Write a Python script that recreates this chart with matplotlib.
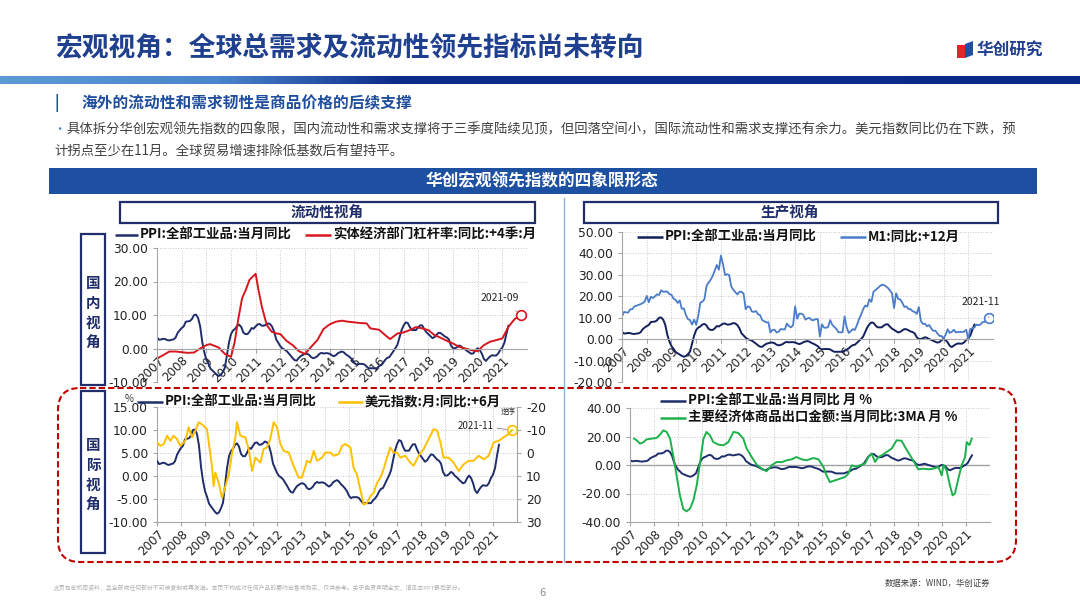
import numpy as np
import matplotlib
matplotlib.use("Agg")
import matplotlib.pyplot as plt
from matplotlib.patches import Rectangle, FancyBboxPatch, Polygon
from matplotlib.colors import LinearSegmentedColormap

plt.rcParams['font.family'] = ['Noto Sans CJK SC', 'DejaVu Sans']
plt.rcParams['axes.unicode_minus'] = False

W, H = 1080, 608

# ---------------- data ----------------
years = list(range(2007, 2022))

# PPI:全部工业品:当月同比, monthly 2007-01 .. 2021-04
ppi = [3.3, 2.6, 2.7, 2.9, 2.8, 2.5, 2.4, 2.6, 2.7, 3.2, 4.6, 5.4,
       6.1, 6.6, 8.0, 8.1, 8.2, 8.8, 10.0, 10.1, 9.1, 6.6, 2.0, -1.1,
       -3.3, -4.5, -6.0, -6.6, -7.2, -7.8, -8.2, -7.9, -7.0, -5.8, -2.1, 1.7,
       4.3, 5.4, 5.9, 6.8, 7.1, 6.4, 4.8, 4.3, 4.3, 5.0, 6.1, 5.9,
       6.6, 7.2, 7.3, 6.8, 6.8, 7.1, 7.5, 7.3, 6.5, 5.0, 2.7, 1.7,
       0.7, 0.0, -0.3, -0.7, -1.4, -2.1, -2.9, -3.5, -3.6, -2.8, -2.2, -1.9,
       -1.6, -1.6, -1.9, -2.6, -2.9, -2.7, -2.3, -1.6, -1.3, -1.5, -1.4, -1.4,
       -1.6, -2.0, -2.3, -2.0, -1.4, -1.1, -0.9, -1.2, -1.8, -2.2, -2.7, -3.3,
       -4.3, -4.8, -4.6, -4.6, -4.6, -4.8, -5.4, -5.9, -5.9, -5.9, -5.9, -5.9,
       -5.3, -4.9, -4.3, -3.4, -2.8, -2.6, -1.7, -0.8, 0.1, 1.2, 3.3, 5.5,
       6.9, 7.8, 7.6, 6.4, 5.5, 5.5, 5.5, 6.3, 6.9, 6.9, 5.8, 4.9,
       4.3, 3.7, 3.1, 3.4, 4.1, 4.7, 4.6, 4.1, 3.6, 3.3, 2.7, 0.9,
       0.1, 0.1, 0.4, 0.9, 0.6, 0.0, -0.3, -0.8, -1.2, -1.6, -1.4, -0.5,
       0.1, -0.4, -1.5, -3.1, -3.7, -3.0, -2.4, -2.0, -2.1, -2.1, -1.5, -0.4,
       0.3, 1.7, 4.4, 6.8]
ppi_t = 2007 + np.arange(len(ppi)) / 12

# M1:同比:+12月 (plotted 2007-01 .. 2021-11)
m1 = [10.6, 12.7, 12.5, 12.4, 13.9, 14.0, 15.3, 15.6, 16.0, 16.3, 16.8, 17.5,
      20.2, 17.2, 19.8, 19.2, 20.0, 20.9, 20.6, 22.8, 22.1, 22.2, 22.2, 21.0,
      20.7, 18.9, 18.3, 16.9, 18.1, 14.2, 14.3, 11.3, 9.3, 8.9, 6.8, 9.1,
      6.7, 10.9, 17.0, 17.5, 18.7, 24.8, 26.4, 27.7, 29.5, 32.0, 34.6, 32.4,
      39.0, 35.0, 29.9, 30.3, 29.9, 24.6, 23.0, 21.9, 20.9, 22.1, 22.1, 21.2,
      14.0, 15.3, 15.0, 12.9, 12.7, 13.1, 11.6, 11.2, 8.9, 8.4, 7.8, 7.9,
      3.1, 4.3, 4.4, 3.1, 3.5, 4.7, 4.6, 4.5, 7.3, 6.1, 5.5, 6.5,
      15.3, 9.5, 11.9, 11.9, 11.3, 9.1, 9.7, 9.9, 8.9, 8.9, 9.4, 9.3,
      1.2, 6.9, 5.4, 5.3, 5.7, 8.9, 6.7, 5.7, 4.8, 3.2, 3.2, 3.2,
      10.6, 5.6, 2.9, 3.7, 4.7, 4.3, 6.6, 9.3, 11.4, 14.0, 15.7, 15.2,
      18.6, 17.4, 22.1, 22.9, 23.7, 24.6, 25.4, 25.3, 24.7, 23.9, 22.7, 21.4,
      14.5, 21.4, 18.8, 18.5, 17.0, 15.0, 15.3, 14.0, 14.0, 13.0, 12.7, 11.8,
      15.0, 8.5, 7.1, 7.2, 6.0, 6.6, 5.1, 3.9, 4.0, 2.7, 1.5, 1.5,
      0.4, 2.0, 4.6, 2.9, 3.4, 4.4, 3.1, 3.4, 3.4, 3.3, 3.5, 4.4,
      0.0, 4.8, 5.0, 5.5, 6.8, 6.5, 6.9, 8.0, 8.1, 9.1, 10.0]
m1_t = 2007 + np.arange(len(m1)) / 12

# 实体经济部门杠杆率:同比:+4季:月
lev_t = [2007.0, 2007.25, 2007.5, 2007.75, 2008.0, 2008.25, 2008.5, 2008.75, 2009.0, 2009.15,
         2009.5, 2009.75, 2010.0, 2010.15, 2010.3, 2010.45, 2010.6, 2010.75, 2011.0, 2011.1,
         2011.25, 2011.45, 2011.65, 2011.85, 2012.0, 2012.25, 2012.5, 2012.75, 2013.0, 2013.25,
         2013.5, 2013.75, 2014.0, 2014.25, 2014.5, 2014.75, 2015.0, 2015.25, 2015.5, 2015.65,
         2016.0, 2016.25, 2016.45, 2016.75, 2017.0, 2017.25, 2017.5, 2017.75, 2018.0, 2018.25,
         2018.5, 2018.75, 2019.0, 2019.25, 2019.5, 2019.75, 2020.0, 2020.25, 2020.5, 2020.75,
         2021.0, 2021.25, 2021.5, 2021.75, 2022.0]
lev = [-3.0, -2.0, -0.9, -0.9, -1.1, -1.3, -1.2, 0.0, 1.0, 1.3,
       0.3, -1.6, -2.5, 2.0, 9.0, 15.0, 17.5, 20.5, 22.3, 18.0,
       12.5, 7.0, 5.0, 4.5, 4.3, 2.3, 1.0, -0.8, -1.6, 0.5,
       2.5, 5.8, 7.2, 8.0, 8.3, 8.0, 7.8, 7.6, 7.5, 6.0,
       5.6, 4.0, 2.8, 4.5, 4.8, 5.5, 6.4, 6.0, 5.5, 4.0,
       3.2, 2.3, 1.5, 0.5, 0.0, -0.5, -0.8, 1.0, 2.0, 2.5,
       3.0, 6.5, 8.8, 10.0, 9.5]

# 美元指数:月:同比:+6月 (right axis, reversed)
usd_t = [2007.00, 2007.14, 2007.28, 2007.42, 2007.56, 2007.69, 2007.83, 2007.97, 2008.18, 2008.32,
         2008.46, 2008.60, 2008.74, 2008.94, 2009.08, 2009.29, 2009.36, 2009.43, 2009.57, 2009.71,
         2009.85, 2009.99, 2010.13, 2010.26, 2010.33, 2010.47, 2010.68, 2010.82, 2010.96, 2011.10,
         2011.31, 2011.44, 2011.58, 2011.72, 2011.86, 2012.00, 2012.14, 2012.28, 2012.49, 2012.69,
         2012.90, 2013.04, 2013.25, 2013.39, 2013.53, 2013.67, 2013.88, 2014.01, 2014.22, 2014.36,
         2014.57, 2014.71, 2014.85, 2015.06, 2015.19, 2015.33, 2015.47, 2015.61, 2015.75, 2015.89,
         2016.03, 2016.17, 2016.31, 2016.44, 2016.58, 2016.72, 2016.86, 2017.00, 2017.14, 2017.35,
         2017.49, 2017.69, 2017.90, 2018.11, 2018.32, 2018.53, 2018.67, 2018.81, 2018.94, 2019.15,
         2019.36, 2019.57, 2019.78, 2019.99, 2020.19, 2020.40, 2020.61, 2020.82, 2021.03, 2021.24,
         2021.44, 2021.65, 2021.79]
usd = [-4.6, -3.1, -3.9, -7.5, -5.3, -7.5, -6.1, -3.1, -5.3, -11.2,
       -6.8, -9.7, -13.4, -11.9, -10.4, 5.6, 14.4, 8.5, 12.9, 19.5,
       14.4, 9.3, -0.2, -6.1, -13.4, -7.5, -6.8, -1.7, 7.8, 2.0,
       4.2, -1.7, -2.4, -6.1, -13.4, -11.2, -3.9, -0.9, -0.2, 5.6,
       10.7, 10.7, 3.4, 4.2, -0.9, 3.4, 2.0, -0.2, -0.2, 1.2,
       0.5, -3.1, -3.9, -2.4, 6.4, 9.3, 15.8, 22.4, 21.7, 18.8,
       17.3, 12.9, 10.7, 7.1, 2.0, -2.4, -0.2, -0.2, 2.0, 1.2,
       3.4, 5.6, 1.2, -1.7, -6.1, -10.4, -9.7, -4.6, 2.0, 2.0,
       4.2, 7.8, 4.9, 3.4, 3.4, 1.2, 2.7, 1.2, -4.6, -5.3,
       -6.8, -8.2, -10.0]

# 主要经济体商品出口金额:当月同比:3MA
exp_t = [2007.17, 2007.28, 2007.42, 2007.56, 2007.69, 2007.90, 2008.11, 2008.25, 2008.39, 2008.53,
         2008.67, 2008.81, 2008.94, 2009.08, 2009.22, 2009.36, 2009.50, 2009.64, 2009.78, 2009.92,
         2010.06, 2010.19, 2010.33, 2010.47, 2010.68, 2010.89, 2011.10, 2011.31, 2011.51, 2011.72,
         2011.86, 2012.07, 2012.28, 2012.49, 2012.69, 2012.90, 2013.11, 2013.32, 2013.53, 2013.74,
         2013.94, 2014.15, 2014.36, 2014.64, 2014.85, 2015.06, 2015.19, 2015.33, 2015.54, 2015.75,
         2015.96, 2016.10, 2016.24, 2016.44, 2016.58, 2016.79, 2016.93, 2017.07, 2017.21, 2017.35,
         2017.49, 2017.69, 2017.90, 2018.11, 2018.32, 2018.46, 2018.67, 2018.88, 2019.01, 2019.22,
         2019.43, 2019.64, 2019.85, 2019.99, 2020.06, 2020.19, 2020.33, 2020.44, 2020.54, 2020.68,
         2020.82, 2020.96, 2021.03, 2021.14, 2021.24]
exp = [18.5, 17.3, 15.0, 16.0, 18.0, 18.5, 19.0, 21.3, 24.3, 23.2,
       18.5, 5.6, -7.3, -21.3, -31.0, -32.5, -30.6, -24.8, -14.3, 2.1,
       18.5, 23.2, 20.8, 16.1, 14.3, 13.8, 16.1, 23.2, 22.5, 18.5,
       11.5, 5.6, 0.2, -2.6, -4.4, -0.2, 2.1, 2.0, 3.3, 4.0,
       5.6, 4.0, 3.3, 4.9, 4.0, -1.4, -7.3, -12.0, -10.8, -9.6,
       -8.4, -6.0, -0.2, -1.4, -0.2, 0.9, 5.6, 8.0, 2.1, 5.6,
       6.8, 9.1, 11.5, 17.3, 17.0, 12.6, 6.8, 0.9, -3.0, -2.6,
       -3.0, -2.6, -1.4, -7.3, 0.0, -3.7, -14.3, -21.3, -20.0, -9.6,
       -0.2, 5.6, 16.1, 14.0, 18.5]

NAVY = '#1F2D6B'
RED = '#D7161E'
BLUE = '#4A7CC9'
GOLD = '#FFC000'
GREEN = '#1DB14B'
TITLE = '#1F3F8F'
GRID = '#C8C8C8'
SPINE = '#A6A6A6'


def box(x0, y0, x1, y1):
    return [x0 / W, 1 - y1 / H, (x1 - x0) / W, (y1 - y0) / H]


fig = plt.figure(figsize=(W / 100, H / 100), dpi=100)

# ---------------- background decorations ----------------
bg = fig.add_axes([0, 0, 1, 1])
bg.set_xlim(0, W)
bg.set_ylim(H, 0)
bg.axis('off')

bg.text(55, 47, '宏观视角：全球总需求及流动性领先指标尚未转向', fontsize=19.3,
        fontweight='bold', color=TITLE, va='center', ha='left')
bg.add_patch(Rectangle((957, 45), 8, 13, color='#E0262B', lw=0))
bg.add_patch(Polygon([(965, 44), (973, 41), (973, 55), (965, 58)], color='#1F4FA0', lw=0))
bg.text(977, 49.5, '华创研究', fontsize=12, fontweight='bold', color=TITLE, va='center')

cmap = LinearSegmentedColormap.from_list('bar', [(0, '#5B9BD5'), (0.2, '#4A86CB'),
                                                 (0.36, '#0E2E8C'), (1, '#0A2A8A')])
bg.imshow(np.linspace(0, 1, 500)[None, :], extent=[0, W, 84, 76], cmap=cmap, aspect='auto')
bg.set_xlim(0, W)
bg.set_ylim(H, 0)

bg.text(55, 103, '|', fontsize=11, fontweight='bold', color='#1F4E9E', va='center')
bg.text(81, 103, '海外的流动性和需求韧性是商品价格的后续支撑', fontsize=11.3,
        fontweight='bold', color='#1F4E9E', va='center')
bg.text(53, 129, '•', fontsize=9, color='#4A86CB', va='center')
bg.text(67, 129, '具体拆分华创宏观领先指数的四象限，国内流动性和需求支撑将于三季度陆续见顶，但回落空间小，'
        '国际流动性和需求支撑还有余力。美元指数同比仍在下跌，预', fontsize=9.6, color='#404040', va='center')
bg.text(54, 152, '计拐点至少在11月。全球贸易增速排除低基数后有望持平。', fontsize=9.6,
        color='#404040', va='center')

bg.add_patch(Rectangle((49, 168), 988, 26, color='#1E50A2', lw=0))
bg.text(542, 181, '华创宏观领先指数的四象限形态', fontsize=12, fontweight='bold',
        color='white', ha='center', va='center')

for (x0, y0, x1, y1) in [(120, 202, 535, 223), (584, 202, 998, 223),
                         (81, 234, 105, 385), (81, 391, 105, 553)]:
    bg.add_patch(Rectangle((x0, y0), x1 - x0, y1 - y0, fill=False, ec=NAVY, lw=1.6))
bg.text(327, 212.5, '流动性视角', fontsize=10.5, fontweight='bold', color=NAVY, ha='center', va='center')
bg.text(790, 212.5, '生产视角', fontsize=10.5, fontweight='bold', color=NAVY, ha='center', va='center')
for i, ch in enumerate('国内视角'):
    bg.text(93, 283 + i * 20, ch, fontsize=10.5, fontweight='bold', color=NAVY, ha='center', va='center')
for i, ch in enumerate('国际视角'):
    bg.text(93, 445 + i * 20, ch, fontsize=10.5, fontweight='bold', color=NAVY, ha='center', va='center')

bg.plot([564, 564], [198, 562], color='#8DB3E2', lw=1)
bg.add_patch(FancyBboxPatch((58, 388), 958, 174, boxstyle='round,pad=0,rounding_size=22',
                            fill=False, ec='#C00000', lw=1.5, ls=(0, (3, 1.5))))

bg.text(885, 583, '数据来源：WIND，华创证券', fontsize=6, color='#404040', va='center')
bg.text(54, 588, '此页包含机密资料，其全部或任何部分不可被复制或再发送。本页不构成对任何产品的要约出售或购买，'
        '仅供参考。关于免责声明全文，请见本PPT最后部分。', fontsize=4.2, color='#B0B0B0', va='center')
bg.text(539, 593, '6', fontsize=8, color='#909090', va='center')


def style(ax, ylim, yticks, zero_axis):
    # spine position first: moving a spine resets the tick labels
    if zero_axis:
        ax.spines['bottom'].set_position(('data', 0))
    ax.set_facecolor('none')
    ax.set_xlim(2007, 2022)
    ax.set_ylim(*ylim)
    ax.set_yticks(yticks)
    ax.set_yticklabels(['%.2f' % v for v in yticks], family='DejaVu Sans')
    ax.set_xticks(years)
    ax.set_xticklabels([str(y) for y in years], rotation=45, ha='right',
                       rotation_mode='anchor', fontsize=8.6, family='DejaVu Sans')
    ax.grid(True, color=GRID, ls=':', lw=0.7)
    ax.set_axisbelow(True)
    for s in ['top', 'right']:
        ax.spines[s].set_visible(False)
    for s in ['left', 'bottom']:
        ax.spines[s].set_color(SPINE)
    ax.tick_params(axis='y', labelsize=8.8, colors='#222222', length=3, color=SPINE)
    ax.tick_params(axis='x', colors='#222222', length=3, color=SPINE, pad=1)


# ---------------- top-left: liquidity / domestic ----------------
ax1 = fig.add_axes(box(157, 248, 527, 382))
style(ax1, (-10, 30), [-10, 0, 10, 20, 30], True)
ax1.plot(ppi_t, ppi, color=NAVY, lw=1.4)
ax1.plot(lev_t, lev, color=RED, lw=1.4)
ax1.plot([lev_t[-2]], [lev[-2]], 'o', ms=7, mfc='white', mec=RED, mew=1.2)
ax1.annotate('2021-09', xy=(lev_t[-2], lev[-2]), xytext=(2020.9, 15.2), fontsize=7.5,
             ha='center', va='center', color='#222222',
             arrowprops=dict(arrowstyle='-', color='#808080', lw=0.6, shrinkA=6, shrinkB=4))

# ---------------- top-right: production / domestic ----------------
ax2 = fig.add_axes(box(622, 232, 993, 382))
style(ax2, (-20, 50), [-20, -10, 0, 10, 20, 30, 40, 50], True)
ax2.plot(ppi_t, ppi, color='#14205C', lw=1.4)
ax2.plot(m1_t, m1, color=BLUE, lw=1.3)
ax2.plot([m1_t[-1]], [m1[-1]], 'o', ms=7, mfc='white', mec=BLUE, mew=1.2)
ax2.annotate('2021-11', xy=(m1_t[-1], m1[-1]), xytext=(2021.5, 17.5), fontsize=7.5,
             ha='center', va='center', color='#222222',
             arrowprops=dict(arrowstyle='-', color='#808080', lw=0.6, shrinkA=6, shrinkB=4))

# ---------------- bottom-left: liquidity / international ----------------
ax3 = fig.add_axes(box(157, 407, 517, 522))
style(ax3, (-10, 15), [-10, -5, 0, 5, 10, 15], False)
ax3.plot(ppi_t, ppi, color=NAVY, lw=1.4, zorder=3)
ax3r = ax3.twinx()
ax3r.set_ylim(30, -20)
ax3r.set_yticks([-20, -10, 0, 10, 20, 30])
ax3r.set_yticklabels(['-20', '-10', '0', '10', '20', '30'], family='DejaVu Sans')
ax3r.set_facecolor('none')
for s in ['top', 'left', 'bottom']:
    ax3r.spines[s].set_visible(False)
ax3r.spines['right'].set_color(SPINE)
ax3r.tick_params(axis='y', labelsize=8.8, colors='#222222', length=3, color=SPINE)
ax3r.plot(usd_t, usd, color=GOLD, lw=1.4)
ax3r.plot([usd_t[-1]], [usd[-1]], 'o', ms=7, mfc='none', mec=GOLD, mew=1.2)
ax3r.annotate('2021-11', xy=(usd_t[-1], usd[-1]), xytext=(2020.3, -11.8), fontsize=7,
              ha='center', va='center', color='#222222',
              arrowprops=dict(arrowstyle='-', color='#808080', lw=0.6, shrinkA=14, shrinkB=4))

# ---------------- bottom-right: production / international ----------------
ax4 = fig.add_axes(box(630, 408, 990, 522))
style(ax4, (-40, 40), [-40, -20, 0, 20, 40], False)
ax4.axhline(0, color='#A0A0A0', lw=1.0, zorder=1)
ax4.plot(ppi_t, ppi, color=NAVY, lw=1.4)
ax4.plot(exp_t, exp, color=GREEN, lw=1.4)

# ---------------- foreground: legends and small labels ----------------
fg = fig.add_axes([0, 0, 1, 1])
fg.set_xlim(0, W)
fg.set_ylim(H, 0)
fg.axis('off')
fg.set_zorder(20)


def legend_item(x0, x1, y, color, label):
    fg.plot([x0, x1], [y, y], color=color, lw=1.8, solid_capstyle='butt')
    fg.text(x1 + 2, y, label, fontsize=9.6, fontweight='bold', color='#111111', va='center')


legend_item(115, 138, 235, NAVY, 'PPI:全部工业品:当月同比')
legend_item(305, 331, 235, RED, '实体经济部门杠杆率:同比:+4季:月')
legend_item(637, 663, 237, '#14205C', 'PPI:全部工业品:当月同比')
legend_item(840, 866, 237, BLUE, 'M1:同比:+12月')
legend_item(137, 163, 402, NAVY, 'PPI:全部工业品:当月同比')
legend_item(338, 363, 402, GOLD, '美元指数:月:同比:+6月')
legend_item(660, 686, 401, NAVY, 'PPI:全部工业品:当月同比 月 %')
legend_item(660, 686, 418, GREEN, '主要经济体商品出口金额:当月同比:3MA 月 %')
fg.text(129, 399, '%', fontsize=7, color='#333333', ha='center', va='center')
fg.text(508, 412, '逆序', fontsize=5.5, color='#333333', ha='center', va='center')

fig.savefig('out.png', dpi=100)
